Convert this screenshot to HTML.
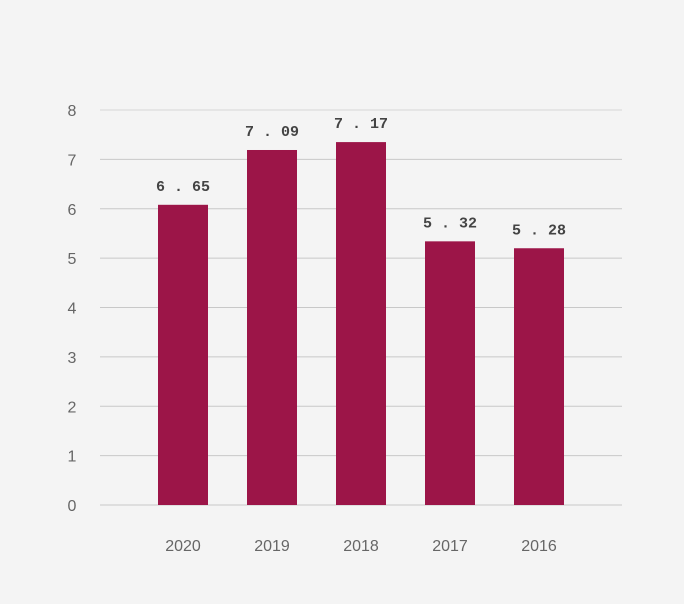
<!DOCTYPE html>
<html><head><meta charset="utf-8"><style>
html,body{margin:0;padding:0;background:#f4f4f4;}
svg{display:block;}
</style></head><body>
<svg id="chart" width="684" height="604" xmlns="http://www.w3.org/2000/svg">
<rect width="684" height="604" fill="#f4f4f4"/>
<g id="grid"></g>
<g id="yaxis"></g>
<g id="bars"></g>
<g id="xaxis"></g>
</svg>
<script>
const categories = ["2020","2019","2018","2017","2016"];
const barValues = [6.08,7.19,7.35,5.34,5.2];
const valueLabels = ["6.65","7.09","7.17","5.32","5.28"];
const yTicks = [0,1,2,3,4,5,6,7,8];

const NS="http://www.w3.org/2000/svg";
const y0=505, y8=110, yMax=8;
function yScale(v){return y0-(v/yMax)*(y0-y8);}
function xScale(i){return 158+i*89;}
const barW=50;
function mk(tag,attrs,parent){const e=document.createElementNS(NS,tag);for(const k in attrs)e.setAttribute(k,attrs[k]);parent.appendChild(e);return e;}
const grid=document.getElementById('grid'),yaxis=document.getElementById('yaxis'),bars=document.getElementById('bars'),xaxis=document.getElementById('xaxis');
yTicks.forEach(t=>{
  const y=yScale(t);
  const l=mk('line',{x1:100,x2:622,y1:y,y2:y,stroke:t===8?'#d6d6d6':'#c8c8c8','stroke-width':1},grid);
  
  
  const tx=mk('text',{x:72,y:y+6,'text-anchor':'middle','font-family':'Liberation Sans, sans-serif','font-size':16,fill:'#666'},yaxis);
  tx.textContent=t;
  
  
});
categories.forEach((c,i)=>{
  const x=xScale(i), y=yScale(barValues[i]);
  const r=mk('rect',{x:x,y:y,width:barW,height:y0-y,fill:'#9c1548'},bars);
  
  
  const lb=mk('text',{x:x+barW/2,y:y-14,'text-anchor':'middle','font-family':'Liberation Mono, monospace','font-weight':'bold','font-size':15,fill:'#444'},bars);
  lb.textContent=valueLabels[i].split('').join(' ').replace(/ (\d) (\d)$/,' $1$2').replace(/(\d) \. /,'$1 . ');
  lb.textContent=valueLabels[i].replace('.',' . ');
  
  
  const xl=mk('text',{x:x+barW/2,y:551,'text-anchor':'middle','font-family':'Liberation Sans, sans-serif','font-size':16,fill:'#666'},xaxis);
  xl.textContent=c;
  
  
});
</script>
</body></html>
